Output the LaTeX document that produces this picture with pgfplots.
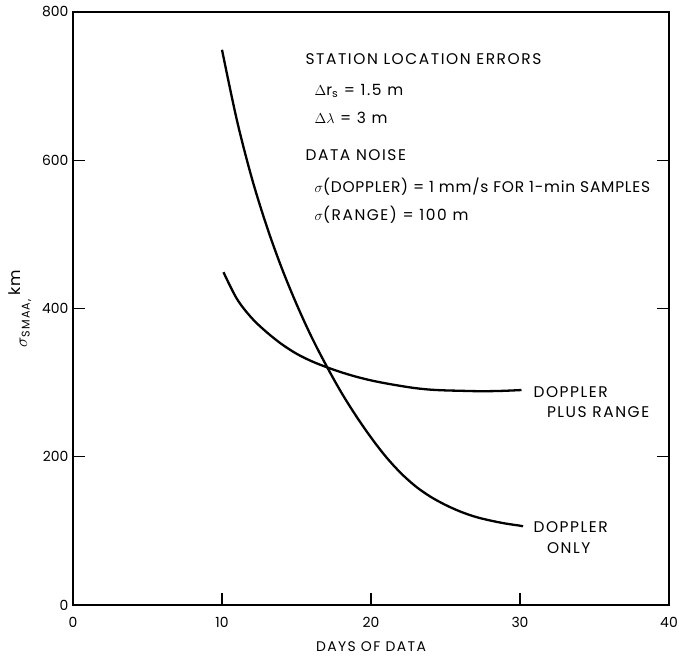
\documentclass[border=0pt]{standalone}
\usepackage{fontspec}
\setmainfont{Poppins}
\newfontfamily\lab[LetterSpace=10]{Poppins}
\newfontfamily\labn[LetterSpace=5]{Poppins}
\usepackage{pgfplots}
\pgfplotsset{compat=1.18}

\begin{document}
\begin{tikzpicture}
\begin{axis}[
    name=ax,
    scale only axis,
    width=596bp, height=593bp,
    xmin=0, xmax=40, ymin=0, ymax=800,
    xtick={0,10,20,30,40},
    ytick={0,200,400,600,800},
    xtick pos=bottom,
    ytick pos=both,
    tick align=inside,
    major tick length=12bp,
    axis line style={line width=1.8bp},
    tick style={line width=1.3bp, black},
    tick label style={font=\fontsize{14}{16}\selectfont},
    xticklabel style={yshift=-9bp},
    yticklabel style={xshift=-1bp},
    /pgf/number format/assume math mode=true,
    xlabel={DAYS OF DATA},
    ylabel={$\sigma$\textsubscript{SMAA,}\,\raisebox{0.7ex}{km}},
    xlabel style={font=\lab\fontsize{14}{16}\selectfont},
    ylabel style={font=\lab\fontsize{16}{18}\selectfont},
    xlabel shift=7bp,
    ylabel shift=4bp,
]
% doppler only
\addplot[line width=2.3bp, smooth, tension=0.55] coordinates {
    (10,749) (11,654) (12,576) (13,511) (14,455) (15,406) (16,362)
    (17,323) (18,287) (19,255) (20,226) (21,200) (22,178) (23,160)
    (24,146) (25,135) (26,126) (27,119) (28,114) (29,110) (30,107) (30.2,106)
};
% doppler plus range
\addplot[line width=2.3bp, smooth, tension=0.55] coordinates {
    (10.1,449) (11,413) (12,387) (13,368) (14,352) (15,339) (16,329)
    (17,321) (18,314) (19,308) (20,303) (21,299) (22,295.5) (23,292.5)
    (24,290.5) (25,289.5) (26,289) (27,288.5) (28,288.5) (29,289) (30.1,290)
};

\begin{scope}[every node/.style={anchor=west, inner sep=0pt, font=\lab\fontsize{15.5}{17}\selectfont}]
\node at (axis cs:15.6,736) {STATION LOCATION ERRORS};
\node at (axis cs:16.2,694) {$\Delta$r\textsubscript{s} = 1.5 m};
\node at (axis cs:16.2,657) {$\Delta\lambda$ = 3 m};
\node at (axis cs:15.6,607) {DATA NOISE};
\node[font=\labn\fontsize{15.5}{17}\selectfont] at (axis cs:16.2,564) {$\sigma$(DOPPLER) = 1 mm/s FOR 1-min SAMPLES};
\node at (axis cs:16.2,526) {$\sigma$(RANGE) = 100 m};
\node at (axis cs:30.9,287) {DOPPLER};
\node at (axis cs:31.8,260) {PLUS RANGE};
\node at (axis cs:30.9,105) {DOPPLER};
\node at (axis cs:31.8,77) {ONLY};
\end{scope}
\end{axis}
\pgfresetboundingbox
\path[use as bounding box] ([shift={(-73bp,-56bp)}]ax.south west) rectangle ([shift={(10bp,12bp)}]ax.north east);
\end{tikzpicture}
\end{document}
